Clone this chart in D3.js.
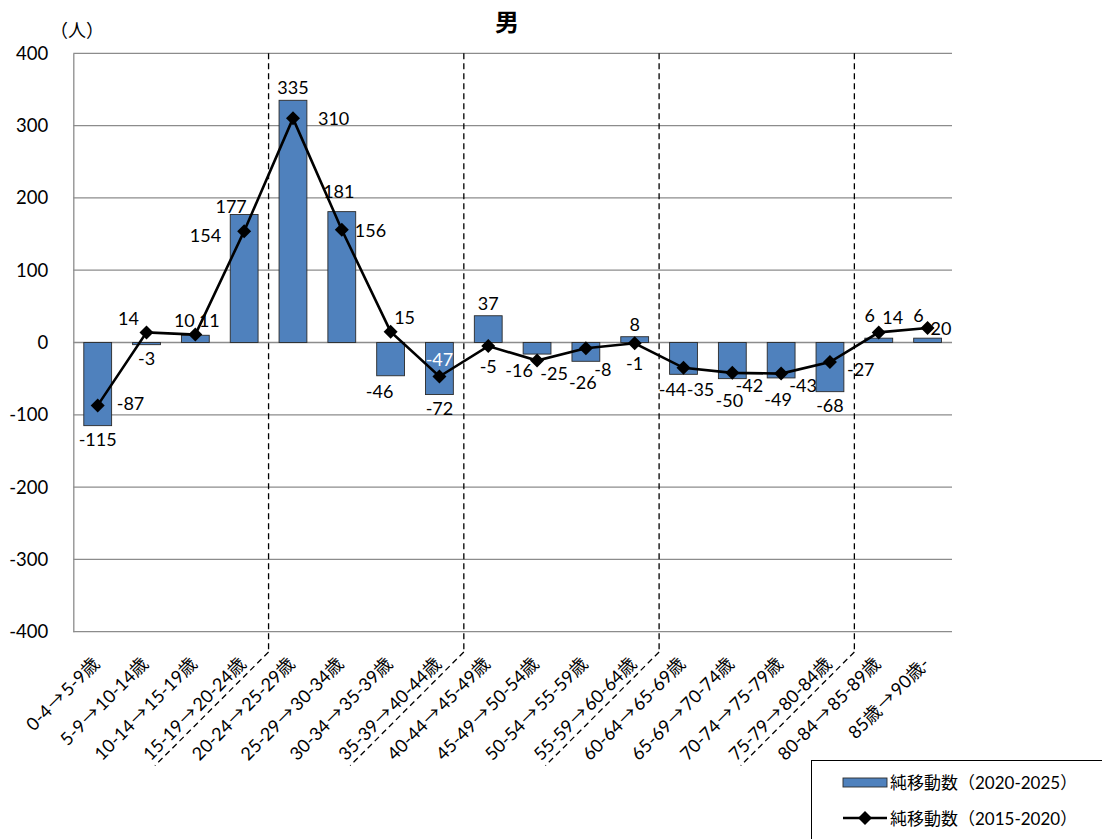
<!DOCTYPE html>
<html>
<head>
<meta charset="utf-8">
<script src="https://cdn.jsdelivr.net/npm/d3@7"></script>
<style>
  html, body { margin: 0; padding: 0; background: #fff; }
  svg { display: block; }
  text { font-family: Lato, "Noto Sans CJK JP", sans-serif; }
</style>
</head>
<body>
<svg id="chart" width="1102" height="839"></svg>
<script>
// ---------- data ----------
const title = "男";
const unitLabel = "（人）";
const categories = [
  "0-4→5-9歳", "5-9→10-14歳", "10-14→15-19歳", "15-19→20-24歳",
  "20-24→25-29歳", "25-29→30-34歳", "30-34→35-39歳", "35-39→40-44歳",
  "40-44→45-49歳", "45-49→50-54歳", "50-54→55-59歳", "55-59→60-64歳",
  "60-64→65-69歳", "65-69→70-74歳", "70-74→75-79歳", "75-79→80-84歳",
  "80-84→85-89歳", "85歳→90歳-"
];
const seriesBarName = "純移動数（2020-2025）";
const seriesLineName = "純移動数（2015-2020）";
const barValues  = [-115, -3, 10, 177, 335, 181, -46, -72, 37, -16, -26, 8, -44, -50, -49, -68, 6, 6];
const lineValues = [-87, 14, 11, 154, 310, 156, 15, -47, -5, -25, -8, -1, -35, -42, -43, -27, 14, 20];
const yTicks = [-400, -300, -200, -100, 0, 100, 200, 300, 400];
// group separators drawn after these category indices
const separatorsAfter = [3, 7, 11, 15];
// label placement keywords
const barLabelPlace  = ["out","out","outL","outLNear","out","outFar","outL","out","out","outLL","outFar","out","outL","outFar","outFar","out","outHigh","outHigh"];
const lineLabelPlace = ["r","tl","tr","l","rFar","rNear","tr","tIn","b","br","brFar","b","brFar","br","brR","rLow","tr","rTouch"];

// ---------- layout ----------
const svg = d3.select("#chart");
const plot = { left: 73.3, right: 952, top: 53.3, bottom: 631.7 };
const BLUE = "#4F81BD";
const GRID = "#8c8c8c";
const CJK = "'Noto Sans CJK JP', sans-serif";

const x = d3.scaleBand().domain(categories).range([plot.left, plot.right])
  .paddingInner(0.43).paddingOuter(0.215);
const y = d3.scaleLinear().domain([-400, 400]).range([plot.bottom, plot.top]);
const cx = c => x(c) + x.bandwidth() / 2;

// gridlines
svg.append("g").selectAll("line").data(yTicks).join("line")
  .attr("x1", plot.left).attr("x2", plot.right)
  .attr("y1", d => y(d)).attr("y2", d => y(d))
  .attr("stroke", GRID).attr("stroke-width", 1.3);

// y axis
const yAxis = svg.append("g").attr("transform", `translate(${plot.left},0)`)
  .call(d3.axisLeft(y).tickValues(yTicks).tickSize(0).tickPadding(25).tickFormat(d => String(d)));
yAxis.select(".domain").attr("stroke", GRID).attr("stroke-width", 1.3);
yAxis.selectAll("text").attr("font-size", 18.5).attr("fill", "#000")
  .attr("font-family", "Lato, 'Noto Sans CJK JP', sans-serif");

// title and unit
svg.append("text").attr("x", 507).attr("y", 31).attr("text-anchor", "middle")
  .attr("font-size", 24).attr("font-weight", "bold")
  .style("font-family", CJK).text(title);
svg.append("text").attr("x", 77).attr("y", 37).attr("text-anchor", "middle")
  .attr("font-size", 18).style("font-family", CJK).text(unitLabel);

// bars
svg.append("g").selectAll("rect").data(categories).join("rect")
  .attr("x", c => x(c))
  .attr("width", x.bandwidth())
  .attr("y", (c, i) => y(Math.max(0, barValues[i])))
  .attr("height", (c, i) => Math.abs(y(barValues[i]) - y(0)))
  .attr("fill", BLUE).attr("stroke", "#2a2a2a").attr("stroke-width", 0.9);

// separators (vertical dashed)
const sepX = separatorsAfter.map(i => (cx(categories[i]) + cx(categories[i + 1])) / 2);
const sepBottom = 652;
svg.append("g").selectAll("line").data(sepX).join("line")
  .attr("x1", d => d).attr("x2", d => d)
  .attr("y1", plot.top).attr("y2", sepBottom)
  .attr("stroke", "#000").attr("stroke-width", 1.3).attr("stroke-dasharray", "6,4");

// x labels (wide arrow as in the original)
const LAB_Y = 665, LAB_DX = 3;
const lab = svg.append("g").selectAll("text").data(categories).join("text")
  .attr("transform", c => `translate(${cx(c) + LAB_DX},${LAB_Y}) rotate(-45)`)
  .attr("text-anchor", "end").attr("font-size", 18).attr("fill", "#000");
lab.each(function (c) {
  const t = d3.select(this);
  c.split(/(→)/).forEach(part => {
    if (!part) return;
    const ts = t.append("tspan").text(part);
    if (part === "→") ts.style("font-family", CJK).attr("dx", 1.5).style("letter-spacing", "2px");
  });
});

// dashed underline continuing from separators under the labels
separatorsAfter.forEach((i, k) => {
  const node = lab.nodes()[i];
  const L = node.getComputedTextLength() + 1.5;
  const ax = cx(categories[i]) + LAB_DX, ay = LAB_Y;
  const ux = sepX[k], uy = sepBottom;
  const e = [Math.SQRT1_2, -Math.SQRT1_2];
  const beyond = (ux - ax) * e[0] + (uy - ay) * e[1];
  const len = beyond + L;
  svg.append("line")
    .attr("x1", ux).attr("y1", uy)
    .attr("x2", ux - len * e[0]).attr("y2", uy - len * e[1])
    .attr("stroke", "#000").attr("stroke-width", 1.3).attr("stroke-dasharray", "6,4");
});

// line series
const pts = categories.map((c, i) => [cx(c), y(lineValues[i])]);
svg.append("path").attr("d", d3.line()(pts))
  .attr("fill", "none").attr("stroke", "#000").attr("stroke-width", 2.6);
const diamond = "M0,-7L7,0L0,7L-7,0Z";
svg.append("g").selectAll("path").data(pts).join("path")
  .attr("d", diamond).attr("transform", d => `translate(${d[0]},${d[1]})`)
  .attr("fill", "#000");

// bar labels
const barPlace = {
  out: [0, 13], outL: [-11, 15], outLNear: [-13, 9], outLL: [-18, 16],
  outFar: [-3, 21], outHigh: [-9, 23]
};
svg.append("g").selectAll("text").data(categories).join("text")
  .attr("x", (c, i) => cx(c) + barPlace[barLabelPlace[i]][0])
  .attr("y", (c, i) => {
    const v = barValues[i];
    const dir = v >= 0 ? -1 : 1;
    return y(v) + dir * barPlace[barLabelPlace[i]][1];
  })
  .attr("text-anchor", "middle").attr("dominant-baseline", "central")
  .attr("font-size", 18).attr("fill", "#000")
  .text((c, i) => barValues[i]);

// line labels
const linePlace = {
  r: ["start", 19, -2], rFar: ["start", 25, 0], rNear: ["start", 13, 0],
  rLow: ["start", 17, 7], rTouch: ["start", 3, 0], l: ["end", -23, 4],
  tl: ["middle", -18, -14], tr: ["middle", 14, -15], tIn: ["middle", 0, -17],
  b: ["middle", 0, 20], br: ["middle", 17, 12], brR: ["middle", 22, 11], brFar: ["middle", 17, 21]
};
svg.append("g").selectAll("text").data(categories).join("text")
  .attr("x", (c, i) => pts[i][0] + linePlace[lineLabelPlace[i]][1])
  .attr("y", (c, i) => pts[i][1] + linePlace[lineLabelPlace[i]][2])
  .attr("text-anchor", (c, i) => linePlace[lineLabelPlace[i]][0])
  .attr("dominant-baseline", "central")
  .attr("font-size", 18)
  .attr("fill", (c, i) => lineLabelPlace[i] === "tIn" ? "#fff" : "#000")
  .text((c, i) => lineValues[i]);

// legend
const lg = svg.append("g");
lg.append("rect").attr("x", 811.5).attr("y", 760.5).attr("width", 320).attr("height", 120)
  .attr("fill", "#fff").attr("stroke", "#000").attr("stroke-width", 1);
lg.append("rect").attr("x", 843).attr("y", 778).attr("width", 44).attr("height", 9)
  .attr("fill", BLUE).attr("stroke", "#2a2a2a").attr("stroke-width", 0.9);
lg.append("text").attr("x", 890).attr("y", 782.5).attr("dominant-baseline", "central")
  .attr("font-size", 17).text(seriesBarName);
lg.append("line").attr("x1", 843).attr("x2", 887).attr("y1", 818).attr("y2", 818)
  .attr("stroke", "#000").attr("stroke-width", 2.6);
lg.append("path").attr("d", diamond).attr("transform", "translate(865,818)").attr("fill", "#000");
lg.append("text").attr("x", 890).attr("y", 818.5).attr("dominant-baseline", "central")
  .attr("font-size", 17).text(seriesLineName);
</script>
</body>
</html>
